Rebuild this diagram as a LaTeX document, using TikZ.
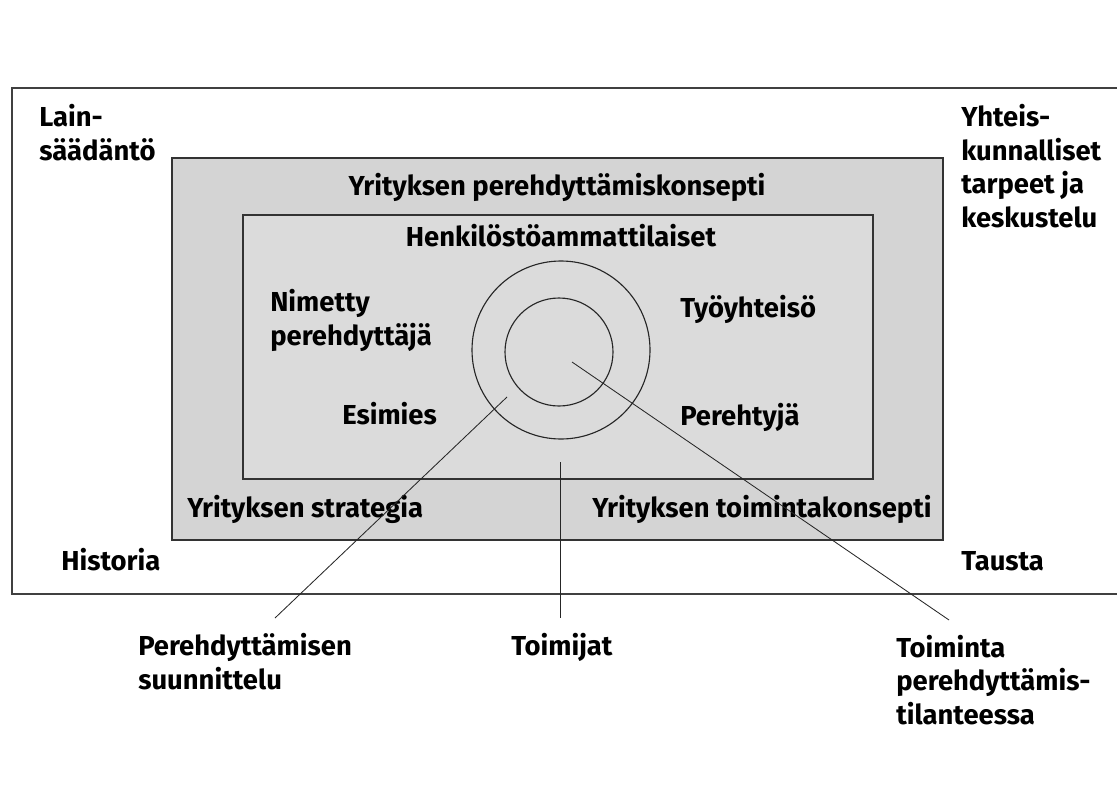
\documentclass[tikz,border=0pt]{standalone}
\usepackage{fontspec}
\setmainfont{Fira Sans}
\usetikzlibrary{positioning}
\definecolor{bandgray}{gray}{0.83}
\definecolor{coregray}{gray}{0.86}
\tikzset{
  lbl/.style={font=\fontsize{19.5}{23.8}\selectfont\bfseries, inner sep=0pt, anchor=base west, align=left},
  ring/.style={circle, draw=black!85, line width=0.8pt, inner sep=0pt},
  link/.style={draw=black!85, line width=0.6pt}
}
\begin{document}
\begin{tikzpicture}[x=0.025cm, y=-0.025cm]
		%%%%% START %%%%%
		\useasboundingbox (0,0) rectangle (1117,809);
		
		% frame, open at the right edge
		\draw[black!75, line width=1pt] (1117,88) -- (12,88) -- (12,594) -- (1117,594);
		
		% boxes
		\draw[black!80, line width=0.8pt, fill=bandgray] (172,158) rectangle (943,540);
		\draw[black!80, line width=0.8pt, fill=coregray] (243,215) rectangle (873,479);
		
		\node[ring, minimum size=178*0.025cm] (outer) at (561,350) {};
		\node[ring, minimum size=108*0.025cm] (inner) at (559,352) {};
		
		% corner texts (base = last line)
		\node[lbl] (law) at (39,160) {Lain-\\säädäntö};
		\node[lbl] (society) at (961,227) {Yhteis-\\kunnalliset\\tarpeet ja\\keskustelu};
		\node[lbl] (history) at (61,570) {Historia};
		\node[lbl] (background) at (961,570) {Tausta};
		
		% texts in the boxes
		\node[lbl, anchor=base] (concept) at (557,195) {Yrityksen perehdyttämiskonsepti};
		\node[lbl, anchor=base] (hr) at (561,246) {Henkilöstöammattilaiset};
		\node[lbl] (mentor) at (270,345) {Nimetty\\perehdyttäjä};
		\node[lbl] (community) at (680,317) {Työyhteisö};
		\node[lbl] (boss) at (342,424) {Esimies};
		\node[lbl] (newcomer) at (680,425) {Perehtyjä};
		\node[lbl] (strategy) at (187,517) {Yrityksen strategia};
		\node[lbl] (business) at (592,517) {Yrityksen toimintakonsepti};
		
		% texts below
		\node[lbl] (planning) at (138,689) {Perehdyttämisen\\suunnittelu};
		\node[lbl] (actors) at (511,655) {Toimijat};
		\node[lbl] (action) at (896,724) {Toiminta\\perehdyttämis-\\tilanteessa};
		
		% connectors
		\coordinate (planin) at (507,397);
		\coordinate (planout) at (275,618);
		\coordinate (actin) at (560,462);
		\coordinate (actout) at (560,618);
		\coordinate (sitin) at (572,362);
		\coordinate (sitout) at (949,620);
		\draw[link] (planin) -- (planout);
		\draw[link] (actin) -- (actout);
		\draw[link] (sitin) -- (sitout);
		%%%%% END %%%%%
\end{tikzpicture}
\end{document}
